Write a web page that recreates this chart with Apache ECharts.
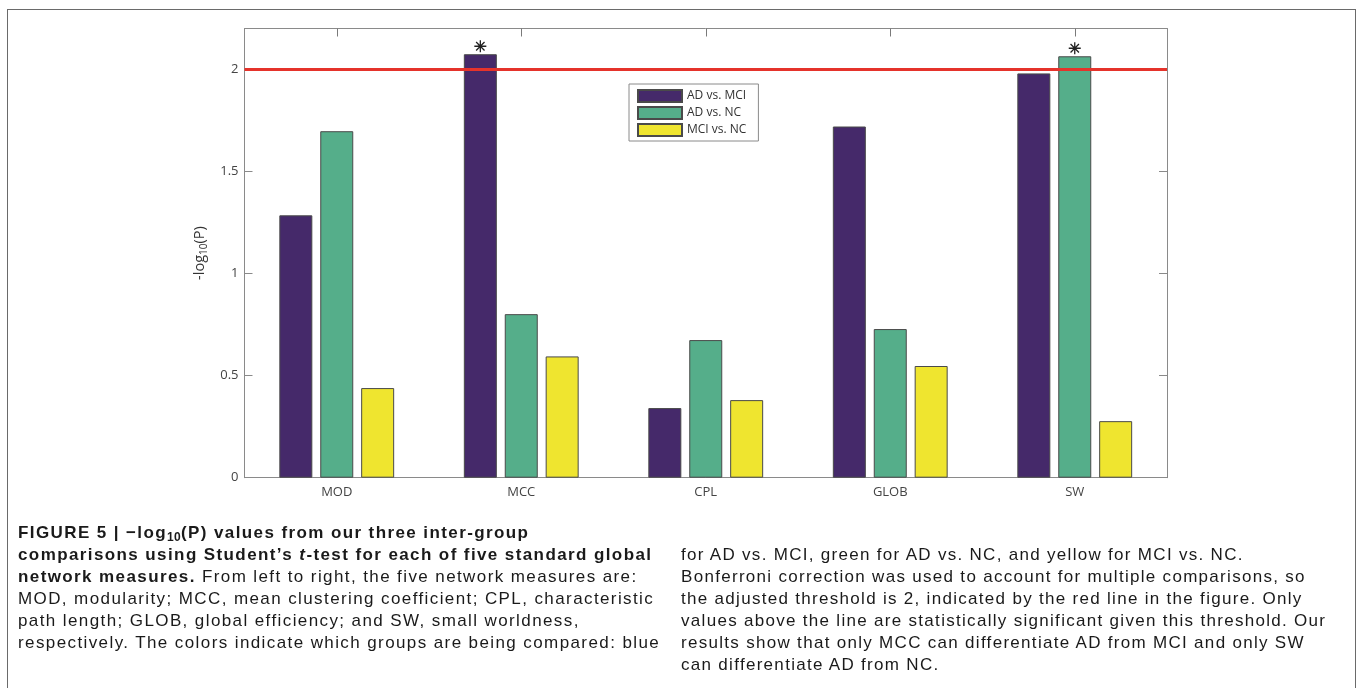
<!DOCTYPE html>
<html>
<head>
<meta charset="utf-8">
<script src="https://cdn.jsdelivr.net/npm/echarts@6/dist/echarts.min.js"></script>
<style>
  html, body { margin: 0; padding: 0; background: #fff; }
  body { width: 1360px; height: 688px; overflow: hidden; position: relative; }
  #frame { position: absolute; left: 7px; top: 9px; width: 1349px; height: 800px; border: 1.5px solid #6a6a6a; box-sizing: border-box; }
  #chart { position: absolute; left: 0; top: 0; width: 1360px; height: 688px; }
  .cap { position: absolute; font-family: "Liberation Sans", Arial, sans-serif; font-size: 17px; letter-spacing: 1.4px; line-height: 22px; color: #1a1a1a; white-space: nowrap; }
  .cap div { height: 22px; }
  .cap b { letter-spacing: 1.4px; }
  .cap sub { font-size: 12px; line-height: 0; vertical-align: -3px; letter-spacing: 0.3px; }
  #capL { left: 18px; top: 522px; }
  #capR { left: 681px; top: 544px; letter-spacing: 1.3px; }
</style>
</head>
<body>
<div id="frame"></div>
<div id="chart"></div>
<div class="cap" id="capL">
  <div><b>FIGURE 5 | −log<sub>10</sub>(P) values from our three inter-group</b></div>
  <div><b>comparisons using Student’s <i>t</i>-test for each of five standard global</b></div>
  <div><b>network measures.</b> From left to right, the five network measures are:</div>
  <div>MOD, modularity; MCC, mean clustering coefficient; CPL, characteristic</div>
  <div>path length; GLOB, global efficiency; and SW, small worldness,</div>
  <div>respectively. The colors indicate which groups are being compared: blue</div>
</div>
<div class="cap" id="capR">
  <div>for AD vs. MCI, green for AD vs. NC, and yellow for MCI vs. NC.</div>
  <div>Bonferroni correction was used to account for multiple comparisons, so</div>
  <div>the adjusted threshold is 2, indicated by the red line in the figure. Only</div>
  <div>values above the line are statistically significant given this threshold. Our</div>
  <div>results show that only MCC can differentiate AD from MCI and only SW</div>
  <div>can differentiate AD from NC.</div>
</div>
<script>
const categories = ['MOD', 'MCC', 'CPL', 'GLOB', 'SW'];
const seriesNames = ['AD vs. MCI', 'AD vs. NC', 'MCI vs. NC'];
const adVsMci = [1.285, 2.074, 0.341, 1.72, 1.98];
const adVsNc = [1.697, 0.801, 0.674, 0.728, 2.064];
const mciVsNc = [0.439, 0.594, 0.380, 0.547, 0.277];
const yTicks = [0, 0.5, 1, 1.5, 2];
const threshold = 2;
const colors = ['#45296a', '#55ae8a', '#efe52f'];

const seriesValues = [adVsMci, adVsNc, mciVsNc];
const axisFont = '"Open Sans", "Noto Sans", sans-serif';
const asteriskPath = 'path://M5,0L5,10M0,5L10,5M1.5,1.5L8.5,8.5M8.5,1.5L1.5,8.5';

const chart = echarts.init(document.getElementById('chart'), null, { renderer: 'canvas' });

const series = seriesValues.map((vals, i) => {
  const s = {
    name: seriesNames[i],
    type: 'bar',
    data: vals,
    barWidth: 33,
    barGap: '24%',
    itemStyle: { color: colors[i], borderColor: '#4a4a4a', borderWidth: 1 },
    emphasis: { disabled: true },
    markPoint: {
      symbol: asteriskPath,
      symbolSize: 12,
      symbolOffset: [0, -8],
      silent: true,
      itemStyle: { color: 'rgba(0,0,0,0)', borderColor: '#222', borderWidth: 1.3 },
      label: { show: false },
      data: vals.map((v, j) => v > threshold ? { coord: [categories[j], v] } : null).filter(Boolean)
    }
  };
  if (i === 0) {
    s.markLine = {
      silent: true,
      symbol: ['none', 'none'],
      z: 10,
      label: { show: false },
      lineStyle: { color: '#e5332b', width: 3, type: 'solid' },
      data: [{ yAxis: threshold }]
    };
  }
  return s;
});

const yCommon = {
  type: 'value',
  min: 0,
  max: 2.2,
  interval: 0.5,
  splitLine: { show: false },
  axisLine: { show: true, onZero: false, lineStyle: { color: '#8a8a8a', width: 1 } },
  axisTick: { show: true, inside: true, length: 8, lineStyle: { color: '#8a8a8a' }, customValues: yTicks }
};

chart.setOption({
  animation: false,
  grid: { left: 244.5, right: 193, top: 28.5, bottom: 210.3, show: false, containLabel: false },
  legend: {
    data: seriesNames,
    orient: 'vertical',
    left: 629,
    top: 84,
    itemWidth: 44,
    itemHeight: 12,
    itemGap: 3,
    padding: [5, 12, 4, 8],
    borderColor: '#8a8a8a',
    borderWidth: 1,
    backgroundColor: '#fff',
    icon: 'rect',
    selectedMode: false,
    textStyle: { fontFamily: axisFont, fontSize: 12, lineHeight: 12, color: '#333' }
  },
  xAxis: [
    {
      type: 'category',
      data: categories,
      position: 'bottom',
      axisLine: { show: true, onZero: false, lineStyle: { color: '#8a8a8a', width: 1 } },
      axisTick: { show: false },
      axisLabel: { margin: 8, fontFamily: axisFont, fontSize: 13, color: '#444' }
    },
    {
      type: 'category',
      data: categories,
      position: 'top',
      axisLine: { show: true, onZero: false, lineStyle: { color: '#8a8a8a', width: 1 } },
      axisTick: { show: true, inside: true, alignWithLabel: true, length: 8, lineStyle: { color: '#7a7a7a' } },
      axisLabel: { show: false }
    }
  ],
  yAxis: [
    Object.assign({}, yCommon, {
      position: 'left',
      name: '-log{s|10}(P)',
      nameLocation: 'middle',
      nameGap: 44,
      nameRotate: 90,
      nameTextStyle: {
        fontFamily: axisFont, fontSize: 14.5, color: '#333', lineHeight: 18, verticalAlign: 'top',
        rich: { s: { fontFamily: axisFont, fontSize: 10, color: '#333', lineHeight: 11, verticalAlign: 'bottom' } }
      },
      axisLabel: { margin: 6, fontFamily: axisFont, fontSize: 13, color: '#444', customValues: yTicks }
    }),
    Object.assign({}, yCommon, {
      position: 'right',
      axisLabel: { show: false }
    })
  ],
  series: series
});
</script>
</body>
</html>
